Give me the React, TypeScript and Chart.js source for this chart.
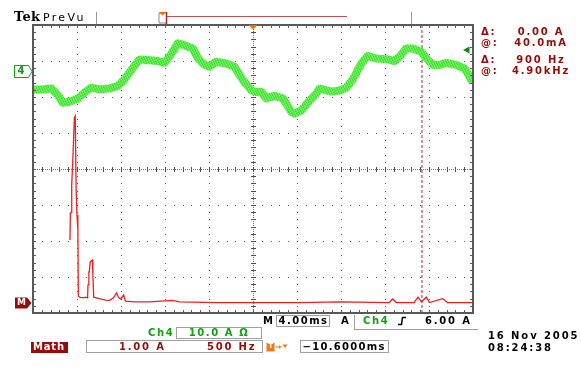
import React, { useEffect, useRef } from 'react';
import { Chart, registerables } from 'chart.js';

Chart.register(...registerables);

// ---- Data (graticule divisions: x 0..10, y -4..+4) ----
const ch4X = [0.00, 0.22, 0.41, 0.56, 0.68, 0.83, 1.02, 1.17, 1.32, 1.51, 1.74, 1.93, 2.08, 2.27, 2.42, 2.65, 2.84, 2.99, 3.14, 3.29, 3.44, 3.63, 3.75, 3.90, 4.01, 4.16, 4.39, 4.58, 4.77, 4.96, 5.07, 5.19, 5.30, 5.49, 5.68, 5.87, 5.94, 6.10, 6.25, 6.44, 6.51, 6.78, 6.97, 7.12, 7.27, 7.46, 7.61, 7.80, 8.03, 8.22, 8.37, 8.48, 8.63, 8.82, 8.94, 9.09, 9.24, 9.39, 9.62, 9.81, 9.96, 10.0];
const ch4Y = [2.21, 2.21, 2.24, 2.06, 1.84, 1.87, 1.96, 2.12, 2.26, 2.21, 2.24, 2.31, 2.49, 2.81, 3.04, 3.02, 3.00, 2.95, 3.19, 3.49, 3.44, 3.35, 3.07, 2.89, 2.84, 2.98, 2.93, 2.84, 2.47, 2.19, 2.14, 2.14, 1.96, 2.03, 1.96, 1.59, 1.54, 1.63, 1.85, 2.10, 2.23, 2.15, 2.18, 2.26, 2.49, 2.93, 3.14, 3.07, 3.05, 3.00, 3.17, 3.35, 3.35, 3.26, 3.07, 2.89, 2.89, 2.95, 2.89, 2.79, 2.49, 2.40];

const mathX = [0.84, 0.85, 0.875, 0.88, 0.905, 0.94, 0.96, 0.98, 1.00, 1.02, 1.03, 1.06, 1.15, 1.19, 1.24, 1.25, 1.27, 1.28, 1.30, 1.35, 1.36, 1.38, 1.44, 1.53, 1.65, 1.74, 1.83, 1.90, 1.94, 1.99, 2.06, 2.10, 2.31, 2.65, 3.17, 3.33, 4.19, 4.92, 6.06, 6.97, 8.10, 8.17, 8.26, 8.66, 8.75, 8.83, 8.94, 9.01, 9.31, 9.42, 9.99];
const mathY = [-1.97, -1.22, -1.22, -0.44, 0.25, 1.42, 1.47, -0.58, -1.28, -1.69, -3.53, -3.56, -3.58, -3.56, -3.58, -3.22, -2.86, -2.86, -2.58, -2.53, -2.94, -3.56, -3.58, -3.61, -3.64, -3.65, -3.58, -3.44, -3.56, -3.61, -3.50, -3.67, -3.69, -3.69, -3.65, -3.69, -3.71, -3.71, -3.71, -3.69, -3.71, -3.61, -3.71, -3.71, -3.56, -3.69, -3.56, -3.71, -3.60, -3.71, -3.71];

const cursorX = 8.84;
const triggerPos = 5;
const divsX = 10;
const divsY = 8;

const readoutLabels = ['Δ:', '@:', 'Δ:', '@:'];
const readoutValues = ['0.00 A', '40.0mA', '900 Hz', '4.90kHz'];
const readoutTops = [28, 39, 56, 67];

const DARKRED = '#9b0a0a';
const GREEN = '#10a010';

const graticule = {
  id: 'graticule',
  beforeDatasetsDraw(chart: any) {
    const { ctx, chartArea, scales } = chart;
    const { left, right, top, bottom } = chartArea;
    const x = scales.x, y = scales.y;
    ctx.save();
    ctx.fillStyle = '#5e5e5e';
    for (let i = 1; i < divsX; i++) {
      if (i === triggerPos) continue;
      const px = Math.round(x.getPixelForValue(i));
      for (let j = -divsY * 5 / 2; j <= divsY * 5 / 2; j++) {
        const py = Math.round(y.getPixelForValue(j * 0.2));
        ctx.fillRect(px, py, 1, 1);
      }
    }
    for (let i = -3; i <= 3; i++) {
      if (i === 0) continue;
      const py = Math.round(y.getPixelForValue(i));
      for (let j = 0; j <= divsX * 5; j++) {
        const px = Math.round(x.getPixelForValue(j * 0.2));
        ctx.fillRect(px, py, 1, 1);
      }
    }
    const cx = Math.round(x.getPixelForValue(5));
    const cy = Math.round(y.getPixelForValue(0));
    ctx.fillStyle = '#707070';
    for (let py = top; py < bottom; py += 2) ctx.fillRect(cx, py, 1, 1);
    for (let px = left; px < right; px += 2) ctx.fillRect(px, cy, 1, 1);
    ctx.fillStyle = '#505050';
    for (let j = -20; j <= 20; j++) {
      const py = Math.round(y.getPixelForValue(j * 0.2));
      ctx.fillRect(cx - 2, py, 5, 1);
    }
    for (let j = 0; j <= 50; j++) {
      const px = Math.round(x.getPixelForValue(j * 0.2));
      ctx.fillRect(px, cy - 2, 1, 5);
    }
    ctx.restore();
  },
  afterDatasetsDraw(chart: any) {
    const { ctx, chartArea, scales } = chart;
    const { left, right, top, bottom } = chartArea;
    const x = scales.x, y = scales.y;
    ctx.save();
    ctx.fillStyle = '#5a5a5a';
    for (let j = 0; j <= 50; j++) {
      const px = Math.round(x.getPixelForValue(j * 0.2));
      ctx.fillRect(px, top, 1, 3);
      ctx.fillRect(px, bottom - 3, 1, 3);
    }
    for (let j = -20; j <= 20; j++) {
      const py = Math.round(y.getPixelForValue(j * 0.2));
      ctx.fillRect(left, py, 3, 1);
      ctx.fillRect(right - 3, py, 3, 1);
    }
    ctx.strokeStyle = '#585858';
    ctx.lineWidth = 2;
    ctx.strokeRect(left, top, right - left, bottom - top);
    const tx = x.getPixelForValue(triggerPos);
    ctx.fillStyle = '#f07000';
    ctx.beginPath();
    ctx.moveTo(tx - 4.5, top);
    ctx.lineTo(tx + 4.5, top);
    ctx.lineTo(tx, top + 4.5);
    ctx.closePath();
    ctx.fill();
    ctx.restore();
  },
};

function Txt(props: any) {
  const { x, y, children, color = '#000', size = 10, ls = 1.8, weight = 'bold', family = '"DejaVu Sans", sans-serif', center = false } = props;
  return (
    <div
      style={{
        position: 'absolute',
        left: x,
        top: y - size * 0.117,
        transform: center ? 'translateX(-50%)' : undefined,
        fontSize: size,
        lineHeight: `${size}px`,
        letterSpacing: ls,
        fontWeight: weight as any,
        fontFamily: family,
        color,
        whiteSpace: 'nowrap',
      }}
    >
      {children}
    </div>
  );
}

function Box(props: any) {
  const { x, y, w, h, bg } = props;
  return (
    <div
      style={{
        position: 'absolute',
        left: x,
        top: y,
        width: w,
        height: h,
        boxSizing: 'border-box',
        border: bg ? 'none' : '1px solid #a0a0a0',
        background: bg || 'transparent',
      }}
    />
  );
}

export default function App() {
  const ref = useRef<HTMLCanvasElement>(null);

  useEffect(() => {
    const canvas = ref.current!;
    const ctx = canvas.getContext('2d')!;
    const pc = document.createElement('canvas');
    pc.width = 5;
    pc.height = 5;
    const pctx = pc.getContext('2d')!;
    const cols = ['#42e632', '#6cee5c', '#3ce22c', '#58ec48', '#86f278'];
    for (let r = 0; r < 5; r++) {
      cols.forEach((c, i) => {
        pctx.fillStyle = cols[(i + r * 2) % 5];
        pctx.fillRect(i, r, 1, 1);
      });
    }
    const pattern = ctx.createPattern(pc, 'repeat');

    const chart = new Chart(canvas, {
      type: 'scatter',
      data: {
        datasets: [
          {
            label: 'Ch4',
            data: ch4X.map((v, i) => ({ x: v, y: ch4Y[i] })),
            showLine: true,
            borderColor: pattern as any,
            borderWidth: 8,
            borderJoinStyle: 'round',
            pointRadius: 0,
            tension: 0,
            clip: 0 as any,
            order: 1,
          },
          {
            label: 'Math',
            data: mathX.map((v, i) => ({ x: v, y: mathY[i] })),
            showLine: true,
            borderColor: '#ec1f1f',
            borderWidth: 1.3,
            pointRadius: 0,
            tension: 0,
            clip: 0 as any,
            order: 2,
          },
          {
            label: 'Cursor',
            data: [
              { x: cursorX, y: -divsY / 2 },
              { x: cursorX, y: divsY / 2 },
            ],
            showLine: true,
            borderColor: '#cc2020',
            borderWidth: 1,
            borderDash: [3, 2],
            pointRadius: 0,
            clip: 0 as any,
            order: 3,
          },
        ],
      },
      options: {
        responsive: false,
        animation: false,
        events: [],
        layout: { padding: { left: 33, right: 108, top: 25, bottom: 63 } },
        scales: {
          x: { type: 'linear', min: 0, max: divsX, display: false },
          y: { type: 'linear', min: -divsY / 2, max: divsY / 2, display: false },
        },
        plugins: { legend: { display: false }, tooltip: { enabled: false } },
      },
      plugins: [graticule],
    });
    return () => chart.destroy();
  }, []);

  return (
    <div style={{ position: 'fixed', left: 0, top: 0, width: 581, height: 376, background: '#fff', overflow: 'hidden' }}>
      <canvas ref={ref} width={581} height={376} style={{ position: 'absolute', left: 0, top: 0, width: 581, height: 376 }} />
      <svg width={581} height={376} style={{ position: 'absolute', left: 0, top: 0, pointerEvents: 'none' }}>
        <line x1={96.5} y1={12} x2={96.5} y2={24} stroke="#9a9a9a" strokeWidth={1} />
        <polyline points="166,13 159,13 159,23 166,23" fill="none" stroke="#8a8a8a" strokeWidth={1} />
        <line x1={166.5} y1={12} x2={166.5} y2={24} stroke="#b02020" strokeWidth={1.5} />
        <polygon points="159,12 166,12 162.5,15.5" fill="#f07000" />
        <line x1={167} y1={16.5} x2={347} y2={16.5} stroke="#c05050" strokeWidth={1} />
        <line x1={411.5} y1={12} x2={411.5} y2={24} stroke="#9a9a9a" strokeWidth={1} />
        <polygon points="463,50 469.5,46.5 469.5,53.5" fill="#0a8a0a" />
        <polygon points="14.5,65.5 28.5,65.5 32,71.5 28.5,77.5 14.5,77.5" fill="#fff" stroke="#10a010" strokeWidth={1} />
        <polygon points="15,297.5 27,297.5 31.5,303 27,308.5 15,308.5" fill="#9b0a0a" />
        <polyline points="398,324.5 401.5,324.5 402.5,317.5 406,317.5" fill="none" stroke="#000" strokeWidth={1.5} />
        <line x1={354.5} y1={315} x2={354.5} y2={330} stroke="#a0a0a0" strokeWidth={1} />
        <line x1={354} y1={329.5} x2={478} y2={329.5} stroke="#a0a0a0" strokeWidth={1} />
        <rect x={266.5} y={343} width={8} height={8.5} fill="#f07a10" />
        <line x1={275.5} y1={347} x2={280} y2={347} stroke="#f07a10" strokeWidth={1} />
        <polygon points="279,345 281.5,347 279,349" fill="#f07a10" />
        <polygon points="282.5,344.5 287.5,344.5 285,348" fill="#f07a10" />
      </svg>

      <Txt x={14} y={12} size={13} ls={0.3} family='"DejaVu Serif", serif'>Tek</Txt>
      <Txt x={43} y={13} size={11} ls={2.3} weight="normal">PreVu</Txt>

      <Txt x={17.5} y={67.3} size={10} ls={0} color={GREEN}>4</Txt>
      <Txt x={17} y={299.5} size={9} ls={0} color="#fff">M</Txt>

      {readoutLabels.map((l, i) => (
        <Txt key={'l' + i} x={481} y={readoutTops[i]} color={DARKRED}>{l}</Txt>
      ))}
      {readoutValues.map((v, i) => (
        <Txt key={'v' + i} x={541} y={readoutTops[i]} color={DARKRED} center>{v}</Txt>
      ))}

      <Txt x={263} y={317} ls={0}>M</Txt>
      <Box x={276} y={315} w={54} h={12} />
      <Txt x={278.5} y={317} ls={1.5}>4.00ms</Txt>
      <Txt x={341} y={317} ls={0}>A</Txt>
      <Txt x={363} y={317} color={GREEN} ls={1.6}>Ch4</Txt>
      <Txt x={425} y={317} ls={1.8}>6.00 A</Txt>

      <Txt x={148} y={329} color={GREEN} ls={1.6}>Ch4</Txt>
      <Box x={176} y={327} w={86} h={12} />
      <Txt x={219} y={329} color={GREEN} ls={1.6} center>10.0 A Ω</Txt>

      <Box x={31} y={341.5} w={37} h={11} bg="#9b0a0a" />
      <Txt x={33} y={343.5} color="#fff" ls={0.8}>Math</Txt>
      <Box x={86} y={340} w={177} h={13} />
      <Txt x={119} y={343} color={DARKRED} ls={1.8}>1.00 A</Txt>
      <Txt x={207} y={343} color={DARKRED} ls={1.8}>500 Hz</Txt>
      <Txt x={268.3} y={344.3} size={7} ls={0} color="#fff">T</Txt>
      <Box x={300} y={340} w={89} h={13} />
      <Txt x={302.5} y={343} ls={1.3}>−10.6000ms</Txt>

      <Txt x={488} y={332} ls={1.9}>16 Nov 2005</Txt>
      <Txt x={488} y={344} ls={1.9}>08:24:38</Txt>
    </div>
  );
}
